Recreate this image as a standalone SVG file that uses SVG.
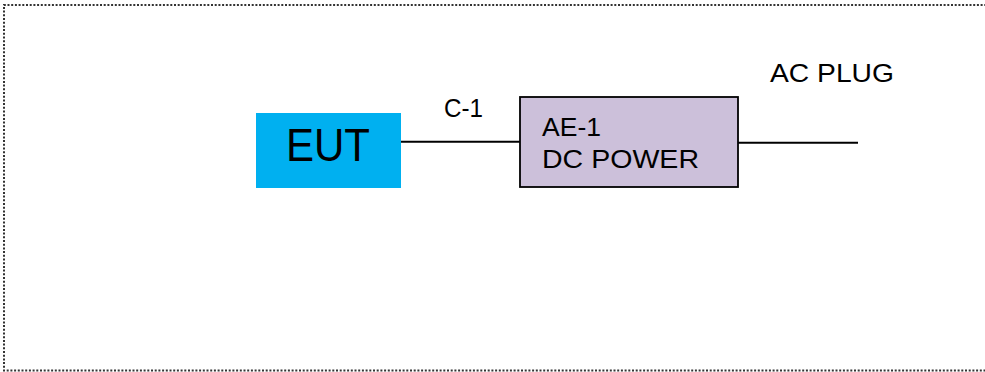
<svg xmlns="http://www.w3.org/2000/svg" width="985" height="372" viewBox="0 0 985 372">
<style>
text{font-family:"Liberation Sans",Arial,sans-serif;fill:#000}
.lbl{font-size:26px}
.wire{stroke:#000;stroke-width:2;fill:none}
</style>
<rect x="0" y="0" width="985" height="372" fill="#fff"/>
<path d="M990 5 H4 V370.5 H990" fill="none" stroke="#333" stroke-width="2" stroke-dasharray="2 1.7"/>
<g id="connectors">
<line class="wire" x1="401" y1="141.7" x2="520" y2="141.7"/>
<line class="wire" x1="738" y1="142.7" x2="858" y2="142.7"/>
<text class="lbl" x="444" y="116.5" textLength="39" lengthAdjust="spacingAndGlyphs">C-1</text>
</g>
<g id="eut">
<rect x="256" y="113" width="145" height="75" fill="#00B0F0"/>
<text x="286" y="161" font-size="46" textLength="84" lengthAdjust="spacingAndGlyphs">EUT</text>
</g>
<g id="ae1">
<rect x="520" y="97" width="218" height="90" fill="#CCC0DA" stroke="#000" stroke-width="1.8"/>
<text class="lbl" x="542" y="135.5" textLength="59" lengthAdjust="spacingAndGlyphs">AE-1</text>
<text class="lbl" x="542" y="167.5" textLength="157" lengthAdjust="spacingAndGlyphs">DC POWER</text>
</g>
<g id="acplug">
<text class="lbl" x="770" y="82" textLength="124" lengthAdjust="spacingAndGlyphs">AC PLUG</text>
</g>
</svg>
